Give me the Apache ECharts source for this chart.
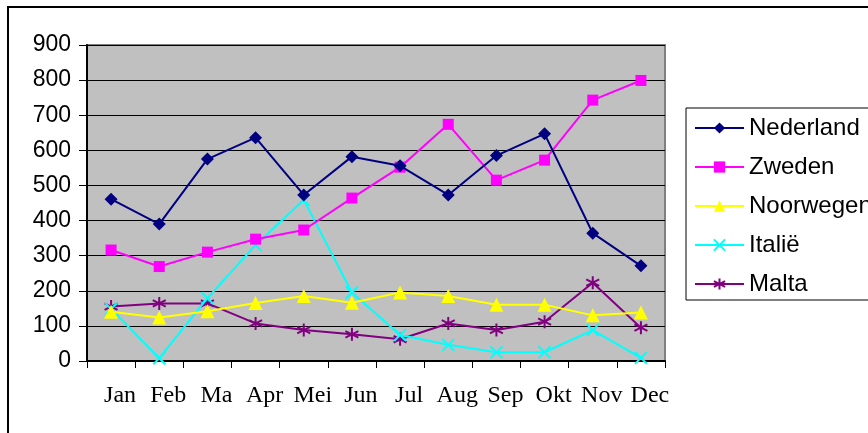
<!DOCTYPE html>
<html>
<head>
<meta charset="utf-8">
<script src="https://cdn.jsdelivr.net/npm/echarts@6/dist/echarts.min.js"></script>
<style>html,body{margin:0;padding:0;background:#fff;}#c{width:868px;height:433px;}</style>
</head>
<body>
<div id="c"></div>
<script>
const categories = ['Jan','Feb','Ma','Apr','Mei','Jun','Jul','Aug','Sep','Okt','Nov','Dec'];
const seriesNames = ['Nederland','Zweden','Noorwegen','Italië','Malta'];
const nederland = [461, 390, 575, 636, 473, 582, 556, 473, 585, 647, 364, 271];
const zweden    = [316, 269, 310, 347, 373, 464, 552, 674, 515, 572, 743, 799];
const noorwegen = [140, 124, 142, 165, 185, 166, 195, 185, 160, 160, 130, 138];
const italie    = [148, 8, 179, 330, 459, 195, 74, 46, 25, 25, 88, 9];
const malta     = [155, 164, 164, 107, 88, 76, 62, 107, 88, 112, 223, 95];
const yTicks = { min: 0, max: 900, interval: 100 };

const colors = ['#000080', '#FF00FF', '#FFFF00', '#00FFFF', '#800080'];
const xPath = 'path://M0,0L10,10M10,0L0,10';
const starPath = 'path://M5,0L5,10M0.7,2.5L9.3,7.5M9.3,2.5L0.7,7.5';
const symbols = ['diamond', 'rect', 'triangle', xPath, starPath];
const sizes = [13, 11, 14, 12, 13];
const values = [nederland, zweden, noorwegen, italie, malta];

const chart = echarts.init(document.getElementById('c'), null, {renderer: 'canvas'});
const series = seriesNames.map((n, i) => {
  const stroke = i >= 3;
  return {
    name: n,
    type: 'line',
    data: values[i],
    symbol: symbols[i],
    symbolSize: sizes[i],
    showAllSymbol: true,
    lineStyle: { color: colors[i], width: 2 },
    itemStyle: stroke ? { color: colors[i], borderColor: colors[i], borderWidth: 2 } : { color: colors[i], borderWidth: 0 },
    emphasis: { disabled: true },
    animation: false,
    z: 10 - i
  };
});

chart.setOption({
  animation: false,
  backgroundColor: '#ffffff',
  graphic: [{
    type: 'rect', shape: { x: 8, y: 7, width: 900, height: 460 },
    style: { fill: 'none', stroke: '#000', lineWidth: 2 }, silent: true, z: 0
  }],
  grid: {
    left: 87, top: 45, right: 203, bottom: 72,
    show: true, backgroundColor: '#C0C0C0', borderColor: '#808080', borderWidth: 2
  },
  legend: {
    orient: 'vertical',
    left: 686, top: 108,
    padding: [8, 40, 4, 8],
    itemGap: 15,
    itemWidth: 49, itemHeight: 14,
    backgroundColor: '#ffffff',
    borderColor: '#000', borderWidth: 1,
    textStyle: { fontFamily: 'Liberation Sans', fontSize: 24, color: '#000' },
    data: seriesNames
  },
  xAxis: {
    type: 'category',
    data: categories,
    boundaryGap: true,
    axisLine: { lineStyle: { color: '#000', width: 2 } },
    axisTick: { show: true, length: 7, inside: false, interval: 0, lineStyle: { color: '#000', width: 1 } },
    axisLabel: { interval: 0, fontFamily: 'Liberation Serif', fontSize: 24, color: '#000', margin: 23, padding: [0, 0, 0, 18] },
    splitLine: { show: false }
  },
  yAxis: {
    type: 'value',
    min: yTicks.min, max: yTicks.max, interval: yTicks.interval,
    axisLine: { show: true, lineStyle: { color: '#000', width: 2 } },
    axisTick: { show: true, length: 8, lineStyle: { color: '#000' } },
    axisLabel: { fontFamily: 'Liberation Sans', fontSize: 23, color: '#000', margin: 16 },
    splitLine: { show: true, lineStyle: { color: '#000', width: 1 } }
  },
  series: series
});
</script>
</body>
</html>
